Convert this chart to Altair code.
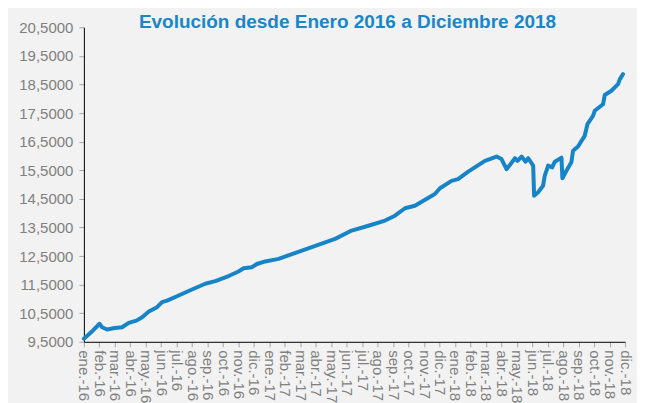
import altair as alt
import pandas as pd

months = ["ene.", "feb.", "mar.", "abr.", "may.", "jun.", "jul.", "ago.", "sep.", "oct.", "nov.", "dic."]
years = ["16", "17", "18"]
month_labels = [f"{m}-{y}" for y in years for m in months]

# time position in months since ene.-16 and value
t = [0.0, 0.5, 1.01, 1.18, 1.5, 2.0, 2.47, 2.9, 3.4, 3.77, 4.2, 4.73, 5.06, 5.38, 6.13, 6.99, 7.85, 8.5,
     9.36, 10.0, 10.33, 10.87, 11.19, 11.73, 12.59, 14.1, 16.25, 17.32, 18.4, 19.48, 20.12,
     20.77, 21.41, 22.7, 23.03, 23.78, 24.2, 24.86, 25.94, 26.69, 27.01, 27.34, 27.55, 27.88,
     28.05, 28.31, 28.56, 28.74, 29.06, 29.12, 29.38, 29.7, 29.81, 30.03, 30.29, 30.46, 30.89,
     30.95, 31.21, 31.53, 31.64, 31.96, 32.39, 32.57, 32.93, 33.04, 33.58, 33.69, 34.12, 34.55,
     34.66, 34.87]
v = [9.61, 9.85, 10.13, 10.01, 9.93, 9.98, 10.01, 10.16, 10.24, 10.36, 10.56, 10.71, 10.89, 10.94, 11.12, 11.33,
     11.53, 11.62, 11.80, 11.96, 12.07, 12.11, 12.22, 12.31, 12.40, 12.69, 13.10, 13.39, 13.56,
     13.74, 13.91, 14.17, 14.26, 14.67, 14.87, 15.13, 15.19, 15.45, 15.83, 15.98, 15.89, 15.54,
     15.68, 15.92, 15.83, 15.98, 15.80, 15.92, 15.66, 14.61, 14.73, 14.96, 15.31, 15.66, 15.60,
     15.80, 15.94, 15.22, 15.48, 15.78, 16.18, 16.33, 16.70, 17.11, 17.40, 17.58, 17.81, 18.13,
     18.28, 18.51, 18.68, 18.86]

y_ticks = [9.5 + i for i in range(12)]

df = pd.DataFrame({"t": t, "v": v})

label_expr = "[" + ",".join(f"'{m}'" for m in month_labels) + "][round(datum.value)]"

chart = alt.Chart(df).mark_line(color="#1784C7", strokeWidth=4, strokeJoin="round", strokeCap="round").encode(
    x=alt.X("t:Q", scale=alt.Scale(domain=[0, 35], nice=False, zero=False),
            axis=alt.Axis(values=list(range(36)), labelExpr=label_expr, labelAngle=90,
                          labelAlign="left", labelBaseline="middle", labelPadding=3,
                          labelFontSize=15, labelColor="#808080", labelFont="Liberation Sans",
                          domainColor="#000000", tickColor="#A6A6A6", tickSize=5,
                          grid=False, title=None, labelOverlap=False)),
    y=alt.Y("v:Q", scale=alt.Scale(domain=[9.5, 20.5], nice=False, zero=False),
            axis=alt.Axis(values=y_ticks, labelExpr="replace(format(datum.value, '.4f'), '.', ',')",
                          labelFontSize=15, labelColor="#808080", labelFont="Liberation Sans",
                          domainColor="#000000", tickColor="#A6A6A6", tickSize=5, labelPadding=6,
                          grid=False, title=None, labelOverlap=False)),
).properties(
    width=542, height=315,
    background="#F2F2F2",
    padding={"left": 10, "top": 5, "right": 5, "bottom": 5},
    title=alt.TitleParams("Evolución desde Enero 2016 a Diciembre 2018", font="Liberation Sans",
                          fontSize=19, fontWeight="bold", color="#1A86C8", anchor="middle",
                          offset=-12, dx=-7),
).configure_view(stroke=None)

chart.save("out.html", embed_options={"renderer": "svg", "actions": False})
